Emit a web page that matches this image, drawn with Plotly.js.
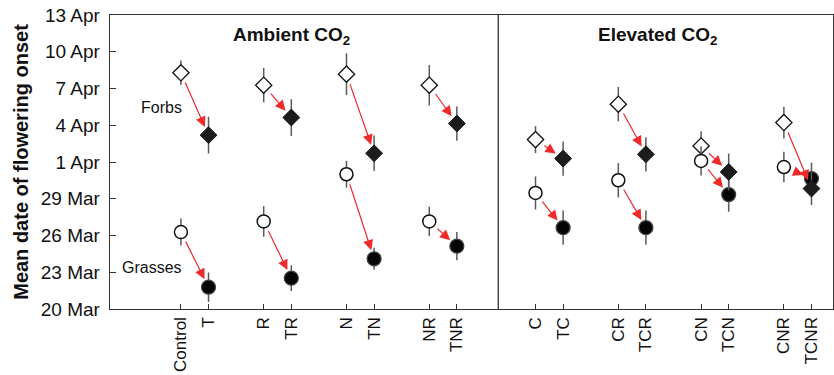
<!DOCTYPE html>
<html>
<head>
<meta charset="utf-8">
<script src="https://cdn.plot.ly/plotly-3.0.1.min.js"></script>
<style>html,body{margin:0;padding:0;background:#fff;}#chart{width:834px;height:375px;}</style>
</head>
<body>
<div id="chart"></div>
<script>
// Treatments (ambient CO2 first 8, elevated CO2 last 8)
const conditions = ['Control','T','R','TR','N','TN','NR','TNR','C','TC','CR','TCR','CN','TCN','CNR','TCNR'];
// Mean flowering onset, days after 20 March
const forbsDays = [19.28, 14.19, 18.27, 15.63, 19.17, 12.71, 18.27, 15.14, 13.83, 12.28, 16.72, 12.63, 13.31, 11.19, 15.22, 9.83];
const forbsErr  = [1.0, 1.5, 1.4, 1.5, 1.7, 1.45, 1.65, 1.4, 1.1, 1.4, 1.4, 1.4, 1.2, 1.5, 1.3, 1.35];
const grassDays = [6.28, 1.78, 7.15, 2.52, 11.0, 4.10, 7.15, 5.13, 9.47, 6.64, 10.51, 6.64, 12.09, 9.34, 11.59, 10.65];
const grassErr  = [1.1, 1.2, 1.25, 1.05, 1.1, 0.9, 1.2, 1.15, 1.35, 1.4, 1.4, 1.4, 1.2, 1.4, 1.25, 1.3];
// Y tick labels (every 3 days from 20 Mar)
const yTickText = ['20 Mar','23 Mar','26 Mar','29 Mar','1 Apr','4 Apr','7 Apr','10 Apr','13 Apr'];
const panelTitles = ['Ambient CO<sub>2</sub>','Elevated CO<sub>2</sub>'];
const groupLabels = ['Forbs','Grasses'];

const FONT = 'Liberation Sans, Arial, sans-serif';
const ELEV_OFFSET = 12.85;
const xPos = conditions.map((c, i) => {
  const grp = Math.floor(i / 8), pair = Math.floor((i % 8) / 2), within = i % 2;
  return grp * ELEV_OFFSET + pair * 3 + within;
});
const yTickVals = yTickText.map((t, i) => i * 3);

function pick(arr, parity) { return arr.filter((v, i) => i % 2 === parity); }

const errStyle = (arr, parity) => ({type: 'data', array: pick(arr, parity), visible: true, color: '#5a5a5a', thickness: 1.5, width: 0});

const traces = [
  {x: pick(xPos, 0), y: pick(forbsDays, 0), error_y: errStyle(forbsErr, 0), mode: 'markers', type: 'scatter',
   marker: {symbol: 'diamond', size: 12.5, color: '#ffffff', line: {color: '#111', width: 1.3}}},
  {x: pick(xPos, 0), y: pick(grassDays, 0), error_y: errStyle(grassErr, 0), mode: 'markers', type: 'scatter',
   marker: {symbol: 'circle', size: 13, color: '#ffffff', line: {color: '#111', width: 1.5}}},
  {x: pick(xPos, 1), y: pick(grassDays, 1), error_y: errStyle(grassErr, 1), mode: 'markers', type: 'scatter',
   marker: {symbol: 'circle', size: 14, color: '#050505', line: {color: '#444', width: 1.2}}},
  {x: pick(xPos, 1), y: pick(forbsDays, 1), error_y: errStyle(forbsErr, 1), mode: 'markers', type: 'scatter',
   marker: {symbol: 'diamond', size: 13, color: '#1c1c1c', line: {color: '#1c1c1c', width: 1}}}
];

const annotations = [];
for (let i = 0; i < conditions.length; i += 2) {
  [forbsDays, grassDays].forEach(arr => {
    annotations.push({
      x: xPos[i + 1], y: arr[i + 1], ax: xPos[i], ay: arr[i],
      xref: 'x', yref: 'y', axref: 'x', ayref: 'y',
      showarrow: true, arrowhead: 2, arrowsize: 1.7, arrowwidth: 1.2, arrowcolor: '#ee2a2a',
      standoff: 9, startstandoff: 9, text: ''
    });
  });
}
annotations.push({x: 4.02, y: 22.3, xref: 'x', yref: 'y', text: '<b>' + panelTitles[0] + '</b>',
  showarrow: false, font: {family: FONT, size: 19, color: '#111'}});
annotations.push({x: 17.28, y: 22.3, xref: 'x', yref: 'y', text: '<b>' + panelTitles[1] + '</b>',
  showarrow: false, font: {family: FONT, size: 19, color: '#111'}});
annotations.push({x: -0.72, y: 16.45, xref: 'x', yref: 'y', text: groupLabels[0], showarrow: false,
  font: {family: FONT, size: 16, color: '#111'}});
annotations.push({x: -1.06, y: 3.41, xref: 'x', yref: 'y', text: groupLabels[1], showarrow: false,
  font: {family: FONT, size: 16, color: '#111'}});

const layout = {
  width: 834, height: 375,
  margin: {l: 110, r: 1, t: 15, b: 66},
  paper_bgcolor: '#fff', plot_bgcolor: '#fff',
  showlegend: false,
  font: {family: FONT, color: '#111'},
  xaxis: {
    range: [-2.57, 23.63], tickmode: 'array', tickvals: xPos, ticktext: conditions, tickangle: -90,
    ticks: 'inside', ticklen: 5, tickcolor: '#333', tickwidth: 1,
    showline: true, linecolor: '#333', linewidth: 1.3, mirror: true,
    showgrid: false, zeroline: false, tickfont: {family: FONT, size: 17, color: '#111'}
  },
  yaxis: {
    range: [0, 24], tickmode: 'array', tickvals: yTickVals, ticktext: yTickText,
    ticks: 'inside', ticklen: 6, tickcolor: '#333', tickwidth: 1, ticklabelstandoff: 5,
    showline: true, linecolor: '#333', linewidth: 1.3, mirror: true,
    showgrid: false, zeroline: false, tickfont: {family: FONT, size: 19, color: '#111'},
    title: {text: '<b>Mean date of flowering onset</b>', font: {family: FONT, size: 20, color: '#111'}, standoff: 6}
  },
  shapes: [{type: 'line', xref: 'x', yref: 'paper', x0: 11.5, x1: 11.5, y0: 0, y1: 1, line: {color: '#333', width: 1.3}}],
  annotations: annotations
};

Plotly.newPlot('chart', traces, layout, {displayModeBar: false, staticPlot: true});
</script>
</body>
</html>
